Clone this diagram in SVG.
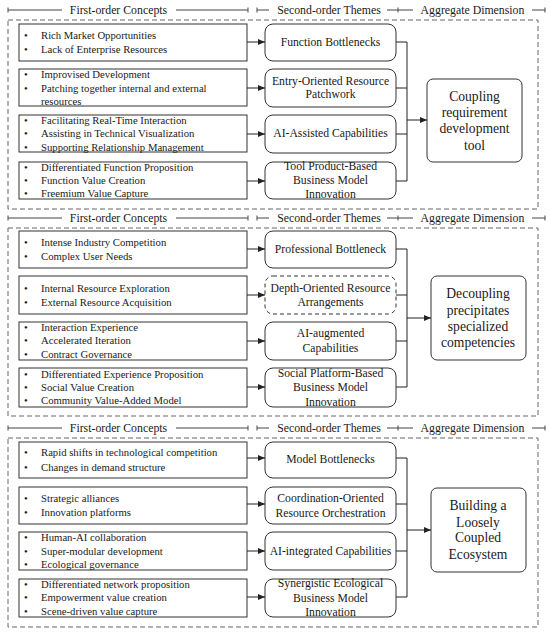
<svg xmlns="http://www.w3.org/2000/svg" width="550" height="633" viewBox="0 0 550 633">
<defs>
<marker id="ah" markerWidth="7" markerHeight="6" refX="7" refY="3" orient="auto" markerUnits="userSpaceOnUse">
<path d="M0,0 L7,3 L0,6 Z" fill="#222"/>
</marker>
<style>
text{font-family:"Liberation Serif","Times New Roman",serif;fill:#1a1a1a}
.hd{font-size:11.8px;text-anchor:middle}
.f1{font-size:10.7px}
.bl{font-size:10.7px}
.s2{font-size:11.7px;text-anchor:middle}
.ag{font-size:13.6px;text-anchor:middle}
.hl{stroke:#444;stroke-width:1;fill:none}
.pan{fill:none;stroke:#666;stroke-width:1;stroke-dasharray:5,3}
.fb{fill:#fff;stroke:#333;stroke-width:1}
.sb{fill:#fff;stroke:#333;stroke-width:1}
.sbd{fill:#fff;stroke:#333;stroke-width:1;stroke-dasharray:4,3}
.cn{stroke:#222;stroke-width:1;fill:none}
.ca{stroke:#222;stroke-width:1;fill:none;marker-end:url(#ah)}
</style>
</defs>

<!-- headers -->
<g id="headers">
<g id="header1">
<path class="hl" d="M8,10 H62 M8,7.5 V12.5 M176,10 H248 M248,7.5 V12.5 M257,7.5 V12.5 M257,10 H269 M387,10 H413 M398,7.5 V12.5 M532,10 H545 M545,7.5 V12.5"/>
<text class="hd" x="118.5" y="14">First-order Concepts</text>
<text class="hd" x="329" y="14">Second-order Themes</text>
<text class="hd" x="472.5" y="14">Aggregate Dimension</text>
</g>
<g id="header2">
<path class="hl" d="M8,218 H62 M8,215.5 V220.5 M176,218 H248 M248,215.5 V220.5 M257,215.5 V220.5 M257,218 H269 M387,218 H413 M398,215.5 V220.5 M532,218 H545 M545,215.5 V220.5"/>
<text class="hd" x="118.5" y="222">First-order Concepts</text>
<text class="hd" x="329" y="222">Second-order Themes</text>
<text class="hd" x="472.5" y="222">Aggregate Dimension</text>
</g>
<g id="header3">
<path class="hl" d="M8,428 H62 M8,425.5 V430.5 M176,428 H248 M248,425.5 V430.5 M257,425.5 V430.5 M257,428 H269 M387,428 H413 M398,425.5 V430.5 M532,428 H545 M545,425.5 V430.5"/>
<text class="hd" x="118.5" y="432">First-order Concepts</text>
<text class="hd" x="329" y="432">Second-order Themes</text>
<text class="hd" x="472.5" y="432">Aggregate Dimension</text>
</g>
</g>

<!-- panels -->
<rect class="pan" x="8" y="20" width="530" height="189"/>
<rect class="pan" x="8" y="228" width="530" height="188"/>
<rect class="pan" x="8" y="438" width="530" height="189"/>

<!-- ===== Panel 1 ===== -->
<g id="p1-f1"><rect class="fb" x="19" y="24" width="228" height="37"/>
<text class="bl" x="24" y="39">•</text><text class="f1" x="41" y="39">Rich Market Opportunities</text>
<text class="bl" x="24" y="53">•</text><text class="f1" x="41" y="53">Lack of Enterprise Resources</text></g>
<g id="p1-f2"><rect class="fb" x="19" y="69" width="228" height="37"/>
<text class="bl" x="24" y="78">•</text><text class="f1" x="41" y="78">Improvised Development</text>
<text class="bl" x="24" y="92">•</text><text class="f1" x="41" y="92">Patching together internal and external</text>
<text class="f1" x="41" y="105">resources</text></g>
<g id="p1-f3"><rect class="fb" x="19" y="115" width="228" height="37"/>
<text class="bl" x="24" y="124">•</text><text class="f1" x="41" y="124">Facilitating Real-Time Interaction</text>
<text class="bl" x="24" y="137">•</text><text class="f1" x="41" y="137">Assisting in Technical Visualization</text>
<text class="bl" x="24" y="151">•</text><text class="f1" x="41" y="151">Supporting Relationship Management</text></g>
<g id="p1-f4"><rect class="fb" x="19" y="162" width="228" height="37"/>
<text class="bl" x="24" y="171">•</text><text class="f1" x="41" y="171">Differentiated Function Proposition</text>
<text class="bl" x="24" y="184">•</text><text class="f1" x="41" y="184">Function Value Creation</text>
<text class="bl" x="24" y="197">•</text><text class="f1" x="41" y="197">Freemium Value Capture</text></g>

<g id="p1-s1"><rect class="sb" x="265" y="24" width="131" height="37" rx="8"/>
<text class="s2" x="330.5" y="46">Function Bottlenecks</text></g>
<g id="p1-s2"><rect class="sb" x="265" y="69" width="131" height="38" rx="8"/>
<text class="s2" x="330.5" y="85">Entry-Oriented Resource</text>
<text class="s2" x="330.5" y="98">Patchwork</text></g>
<g id="p1-s3"><rect class="sb" x="265" y="115" width="131" height="38" rx="8"/>
<text class="s2" x="330.5" y="137">AI-Assisted Capabilities</text></g>
<g id="p1-s4"><rect class="sb" x="265" y="162" width="131" height="37" rx="8"/>
<text class="s2" x="330.5" y="170">Tool Product-Based</text>
<text class="s2" x="330.5" y="184">Business Model</text>
<text class="s2" x="330.5" y="198">Innovation</text></g>

<g id="p1-agg"><rect class="sb" x="427" y="79" width="95" height="83" rx="6"/>
<text class="ag" x="474.5" y="101">Coupling</text>
<text class="ag" x="474.5" y="117">requirement</text>
<text class="ag" x="474.5" y="133">development</text>
<text class="ag" x="474.5" y="150">tool</text></g>

<!-- ===== Panel 2 ===== -->
<g id="p2-f1"><rect class="fb" x="19" y="231" width="228" height="37"/>
<text class="bl" x="24" y="246">•</text><text class="f1" x="41" y="246">Intense Industry Competition</text>
<text class="bl" x="24" y="260">•</text><text class="f1" x="41" y="260">Complex User Needs</text></g>
<g id="p2-f2"><rect class="fb" x="19" y="276" width="228" height="38"/>
<text class="bl" x="24" y="292">•</text><text class="f1" x="41" y="292">Internal Resource Exploration</text>
<text class="bl" x="24" y="306">•</text><text class="f1" x="41" y="306">External Resource Acquisition</text></g>
<g id="p2-f3"><rect class="fb" x="19" y="322" width="228" height="38"/>
<text class="bl" x="24" y="331">•</text><text class="f1" x="41" y="331">Interaction Experience</text>
<text class="bl" x="24" y="344">•</text><text class="f1" x="41" y="344">Accelerated Iteration</text>
<text class="bl" x="24" y="358">•</text><text class="f1" x="41" y="358">Contract Governance</text></g>
<g id="p2-f4"><rect class="fb" x="19" y="368" width="228" height="39"/>
<text class="bl" x="24" y="378">•</text><text class="f1" x="41" y="378">Differentiated Experience Proposition</text>
<text class="bl" x="24" y="391">•</text><text class="f1" x="41" y="391">Social Value Creation</text>
<text class="bl" x="24" y="404">•</text><text class="f1" x="41" y="404">Community Value-Added Model</text></g>

<g id="p2-s1"><rect class="sb" x="265" y="231" width="131" height="37" rx="8"/>
<text class="s2" x="330.5" y="253">Professional Bottleneck</text></g>
<g id="p2-s2"><rect class="sbd" x="265" y="276" width="131" height="38" rx="8"/>
<text class="s2" x="330.5" y="292">Depth-Oriented Resource</text>
<text class="s2" x="330.5" y="306">Arrangements</text></g>
<g id="p2-s3"><rect class="sb" x="265" y="322" width="131" height="38" rx="8"/>
<text class="s2" x="330.5" y="337">AI-augmented</text>
<text class="s2" x="330.5" y="352">Capabilities</text></g>
<g id="p2-s4"><rect class="sb" x="265" y="368" width="131" height="39" rx="8"/>
<text class="s2" x="330.5" y="377">Social Platform-Based</text>
<text class="s2" x="330.5" y="391">Business Model</text>
<text class="s2" x="330.5" y="406">Innovation</text></g>

<g id="p2-agg"><rect class="sb" x="431" y="276" width="95" height="84" rx="6"/>
<text class="ag" x="478" y="298">Decoupling</text>
<text class="ag" x="478" y="315">precipitates</text>
<text class="ag" x="478" y="331">specialized</text>
<text class="ag" x="478" y="347">competencies</text></g>

<!-- ===== Panel 3 ===== -->
<g id="p3-f1"><rect class="fb" x="19" y="442" width="228" height="36"/>
<text class="bl" x="24" y="456">•</text><text class="f1" x="41" y="456">Rapid shifts in technological competition</text>
<text class="bl" x="24" y="471">•</text><text class="f1" x="41" y="471">Changes in demand structure</text></g>
<g id="p3-f2"><rect class="fb" x="19" y="487" width="228" height="37"/>
<text class="bl" x="24" y="502">•</text><text class="f1" x="41" y="502">Strategic alliances</text>
<text class="bl" x="24" y="516">•</text><text class="f1" x="41" y="516">Innovation platforms</text></g>
<g id="p3-f3"><rect class="fb" x="19" y="532" width="228" height="38"/>
<text class="bl" x="24" y="541">•</text><text class="f1" x="41" y="541">Human-AI collaboration</text>
<text class="bl" x="24" y="555">•</text><text class="f1" x="41" y="555">Super-modular development</text>
<text class="bl" x="24" y="568">•</text><text class="f1" x="41" y="568">Ecological governance</text></g>
<g id="p3-f4"><rect class="fb" x="19" y="579" width="228" height="38"/>
<text class="bl" x="24" y="588">•</text><text class="f1" x="41" y="588">Differentiated network proposition</text>
<text class="bl" x="24" y="601">•</text><text class="f1" x="41" y="601">Empowerment value creation</text>
<text class="bl" x="24" y="615">•</text><text class="f1" x="41" y="615">Scene-driven value capture</text></g>

<g id="p3-s1"><rect class="sb" x="265" y="442" width="131" height="36" rx="8"/>
<text class="s2" x="330.5" y="463">Model Bottlenecks</text></g>
<g id="p3-s2"><rect class="sb" x="265" y="487" width="131" height="37" rx="8"/>
<text class="s2" x="330.5" y="502">Coordination-Oriented</text>
<text class="s2" x="330.5" y="517">Resource Orchestration</text></g>
<g id="p3-s3"><rect class="sb" x="265" y="532" width="131" height="38" rx="8"/>
<text class="s2" x="330.5" y="555">AI-integrated Capabilities</text></g>
<g id="p3-s4"><rect class="sb" x="265" y="579" width="131" height="38" rx="8"/>
<text class="s2" x="330.5" y="587">Synergistic Ecological</text>
<text class="s2" x="330.5" y="602">Business Model</text>
<text class="s2" x="330.5" y="616">Innovation</text></g>

<g id="p3-agg"><rect class="sb" x="431" y="488" width="95" height="84" rx="6"/>
<text class="ag" x="478" y="510">Building a</text>
<text class="ag" x="478" y="527">Loosely</text>
<text class="ag" x="478" y="542">Coupled</text>
<text class="ag" x="478" y="559">Ecosystem</text></g>

<!-- connectors -->
<g id="connectors">
<path class="ca" d="M247,42 H265"/>
<path class="ca" d="M247,88 H265"/>
<path class="ca" d="M247,134 H265"/>
<path class="ca" d="M247,181 H265"/>
<path class="cn" d="M396,42 H407 V181 H396 M396,88 H407 M396,134 H407"/>
<path class="ca" d="M407,120 H427"/>

<path class="ca" d="M247,249 H265"/>
<path class="ca" d="M247,295 H265"/>
<path class="ca" d="M247,341 H265"/>
<path class="ca" d="M247,387 H265"/>
<path class="cn" d="M396,249 H407 V387 H396 M396,295 H407 M396,341 H407"/>
<path class="ca" d="M407,318 H431"/>

<path class="ca" d="M247,458 H265"/>
<path class="ca" d="M247,504 H265"/>
<path class="ca" d="M247,551 H265"/>
<path class="ca" d="M247,597 H265"/>
<path class="cn" d="M396,458 H407 V597 H396 M396,504 H407 M396,551 H407"/>
<path class="ca" d="M407,530 H431"/>
</g>
</svg>
